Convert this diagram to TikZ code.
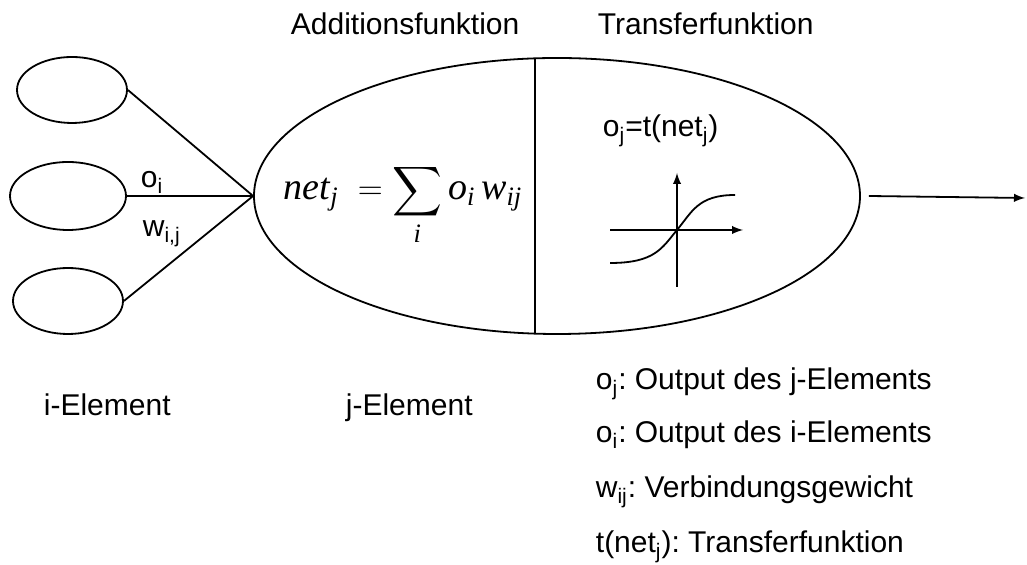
\documentclass[tikz,border=0pt]{standalone}
\usepackage{amsmath}
\usepackage{fontspec}
\setmainfont{Liberation Sans}
\newfontfamily\formfont{Liberation Serif}
\usetikzlibrary{shapes.geometric,positioning}

\begin{document}
\begin{tikzpicture}[x=0.5pt, y=-0.5pt, >=latex, line join=round, line width=0.9pt,
  font=\fontsize{15}{18}\selectfont\frenchspacing]
  \useasboundingbox (0,0) rectangle (1027,565);

  % Stile fuer Elemente und Beschriftungen
  \tikzset{ielem/.style={draw, ellipse, inner sep=0pt, minimum width=55pt, minimum height=33pt},
           jelem/.style={draw, ellipse, inner sep=0pt, minimum width=303pt, minimum height=138pt},
           lbl/.style={inner sep=0pt, anchor=base west}}

  % i-Elemente (Eingang)
  \node[ielem] (i1) at (72,90) {};
  \node[ielem, minimum width=58pt, minimum height=34pt] (i2) at (68,196) {};
  \node[ielem] (i3) at (68,301) {};

  % j-Element mit Trennlinie
  \node[jelem] (jel) at (557,196) {};
  \coordinate (jin) at (jel.west);
  \coordinate (dtop) at (535,58.5);
  \coordinate (dbot) at (535,333.5);
  \draw (dtop) -- (dbot);

  % Verbindungen zum j-Element
  \draw (i1.east) -- (jin);
  \draw (i2.east) -- (jin);
  \draw (i3.east) -- (jin);

  % Ausgang
  \coordinate (out) at (1025,198);
  \draw[->] ([xshift=4pt]jel.east) -- (out);

  % Gewichte an der mittleren Verbindung
  \node[lbl] (oi) at (140,188) {o\textsubscript{i}};
  \node[lbl] (wij) at (142,237) {w\textsubscript{i,j}};

  % Additionsfunktion
  \node[lbl, font=\formfont\fontsize{19}{22}\selectfont] (sum) at (283,200)
    {$\textit{net}_{\textit{j}} \;= \displaystyle\sum_{\textit{i}} \textit{o}_{\textit{i}}\, \textit{w}_{\textit{ij}}$};

  % Transferfunktion
  \node[lbl] (tf) at (602,137) {o\textsubscript{j}=t(net\textsubscript{j})};
  \coordinate (orig) at (677,230);
  \coordinate (xl) at (610,230);
  \coordinate (xr) at (743,230);
  \coordinate (yb) at (677,287);
  \coordinate (yt) at (677,173);
  \draw[->] (xl) -- (xr);
  \draw[->] (yb) -- (yt);
  \draw (610,263) .. controls (655,263) and (662,248) .. (orig)
        .. controls (692,212) and (698,195) .. (735,195);

  % Ueberschriften
  \node[lbl] (add) at (290,35) {Additionsfunktion};
  \node[lbl] (trans) at (597,35) {Transferfunktion};
  \node[lbl] (iel) at (43,416) {i-Element};
  \node[lbl] (jell) at (345,416) {j-Element};

  % Legende
  \node[lbl] (l1) at (595,390) {o\textsubscript{j}: Output des j-Elements};
  \node[lbl] (l2) at (595,443) {o\textsubscript{i}: Output des i-Elements};
  \node[lbl] (l3) at (595,498) {w\textsubscript{ij}: Verbindungsgewicht};
  \node[lbl] (l4) at (595,553) {t(net\textsubscript{j}): Transferfunktion};

\end{tikzpicture}
\end{document}
